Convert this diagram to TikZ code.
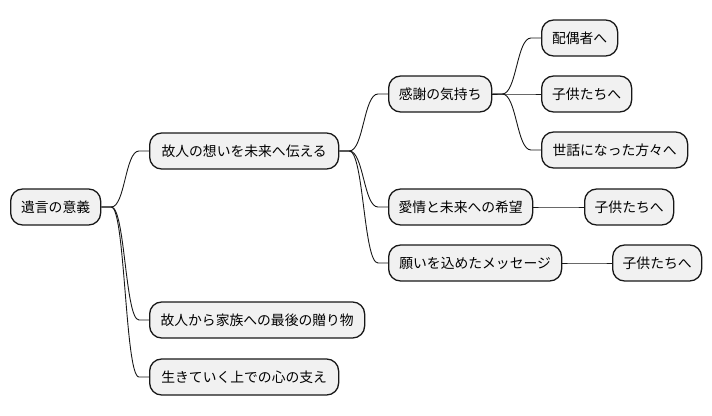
\documentclass[tikz,border=0pt]{standalone}
\usepackage{fontspec}
\newfontfamily\jp{Noto Sans CJK JP}
\usetikzlibrary{calc}
\definecolor{boxfill}{HTML}{F1F1F1}
\definecolor{boxline}{HTML}{181818}
\tikzset{
  mmbox/.style={draw=boxline, fill=boxfill, rounded corners=12pt, line width=1.3pt,
    minimum height=36pt, inner sep=0pt, anchor=west, align=center,
    font=\jp\fontsize{13.8}{16}\selectfont},
  mmline/.style={draw=boxline, line width=0.9pt}
}
\newcommand\mmconn[2]{%
  \path (#1.east) ++(10pt,0) coordinate (s);
  \path (#2.west) ++(-10pt,0) coordinate (t);
  \coordinate (m) at ($(s)!0.5!(t)$);
  \draw[mmline] (#1.east) -- (s) .. controls (m |- s) and (m |- t) .. (t) -- (#2.west);
}
\begin{document}
\begin{tikzpicture}[x=1pt,y=-1pt]
\useasboundingbox (0,0) rectangle (712,415);
\node[mmbox, minimum width=90pt] (root) at (10,207) {遺言の意義};
\node[mmbox, minimum width=189pt] (a) at (149,151) {故人の想いを未来へ伝える};
\node[mmbox, minimum width=215pt] (b) at (149,320) {故人から家族への最後の贈り物};
\node[mmbox, minimum width=189pt] (c) at (149,377) {生きていく上での心の支え};
\node[mmbox, minimum width=103pt] (a1) at (388,94) {感謝の気持ち};
\node[mmbox, minimum width=144pt] (a2) at (388,207) {愛情と未来への希望};
\node[mmbox, minimum width=173pt] (a3) at (388,263) {願いを込めたメッセージ};
\node[mmbox, minimum width=76pt] (a11) at (541,38) {配偶者へ};
\node[mmbox, minimum width=90pt] (a12) at (541,94) {子供たちへ};
\node[mmbox, minimum width=146pt] (a13) at (541,150) {世話になった方々へ};
\node[mmbox, minimum width=89pt] (a21) at (584,207) {子供たちへ};
\node[mmbox, minimum width=89pt] (a31) at (612,263) {子供たちへ};
\mmconn{root}{a}
\mmconn{root}{b}
\mmconn{root}{c}
\mmconn{a}{a1}
\mmconn{a}{a2}
\mmconn{a}{a3}
\mmconn{a1}{a11}
\mmconn{a1}{a12}
\mmconn{a1}{a13}
\mmconn{a2}{a21}
\mmconn{a3}{a31}
\end{tikzpicture}
\end{document}
